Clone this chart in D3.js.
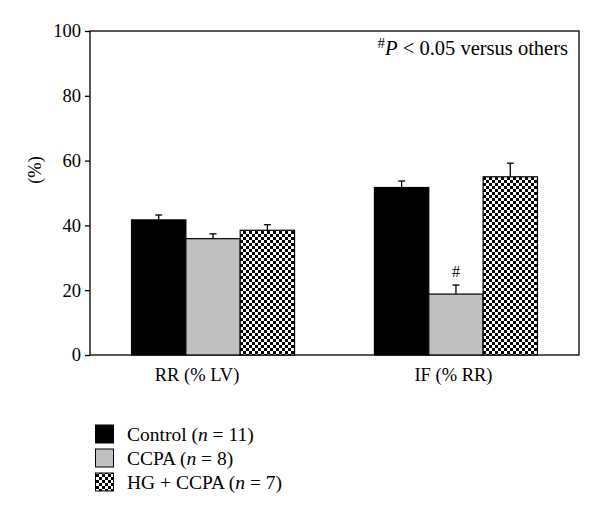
<!DOCTYPE html>
<html>
<head>
<meta charset="utf-8">
<script src="https://cdn.jsdelivr.net/npm/d3@7"></script>
<style>
  html, body { margin: 0; padding: 0; background: #fff; }
  svg { display: block; }
</style>
</head>
<body>
<svg id="chart" width="600" height="517"></svg>
<script>
// ---- data ----
const groups = ["RR (% LV)", "IF (% RR)"];
const seriesNames = ["Control", "CCPA", "HG + CCPA"];
const seriesN = [11, 8, 7];
const controlMean = [41.7, 51.7];
const controlSem  = [1.5, 2.0];
const ccpaMean    = [35.9, 18.8];
const ccpaSem     = [1.5, 2.8];
const hgMean      = [38.5, 55.0];
const hgSem       = [1.7, 4.2];
const sigMarks    = [["IF (% RR)", "CCPA"]];
const yTicks      = [0, 20, 40, 60, 80, 100];

// ---- layout ----
const mLeft = 90, mRight = 579, mTop = 31, mBottom = 355;
const labelDx = [-16, -2.5];
const FONT = '"Liberation Serif", "Times New Roman", serif';
const FS = 18.5;
const FS2 = 19.5;
const fills = ["#000000", "#c0c0c0", "url(#checker)"];

const means = [controlMean, ccpaMean, hgMean];
const sems = [controlSem, ccpaSem, hgSem];
const rows = [];
groups.forEach((g, gi) => seriesNames.forEach((s, si) => {
  rows.push({ group: g, series: s, si, mean: means[si][gi], sem: sems[si][gi] });
}));

const svg = d3.select("#chart");
const defs = svg.append("defs");
const pat = defs.append("pattern").attr("id", "checker")
  .attr("patternUnits", "userSpaceOnUse").attr("width", 6).attr("height", 6);
pat.append("rect").attr("width", 6).attr("height", 6).attr("fill", "#fff");
pat.append("rect").attr("width", 3).attr("height", 3).attr("fill", "#000");
pat.append("rect").attr("x", 3).attr("y", 3).attr("width", 3).attr("height", 3).attr("fill", "#000");

const x0 = d3.scaleBand().domain(groups).range([mLeft, mRight]).paddingInner(0.329).paddingOuter(0.171);
const x1 = d3.scaleBand().domain(seriesNames).range([0, x0.bandwidth()]).padding(0);
const y = d3.scaleLinear().domain([0, 100]).range([mBottom, mTop]);

// frame
svg.append("rect").attr("x", mLeft).attr("y", mTop).attr("width", mRight - mLeft).attr("height", mBottom - mTop)
  .attr("fill", "none").attr("stroke", "#000").attr("stroke-width", 1.3);

// bars
svg.append("g").selectAll("rect").data(rows).join("rect")
  .attr("x", d => x0(d.group) + x1(d.series))
  .attr("y", d => y(d.mean))
  .attr("width", x1.bandwidth())
  .attr("height", d => y(0) - y(d.mean))
  .attr("fill", d => fills[d.si])
  .attr("stroke", "#000").attr("stroke-width", 1.2);

// error bars
const eb = svg.append("g").attr("stroke", "#000").attr("stroke-width", 1.3);
rows.forEach(d => {
  const cx = x0(d.group) + x1(d.series) + x1.bandwidth() / 2;
  eb.append("line").attr("x1", cx).attr("x2", cx).attr("y1", y(d.mean)).attr("y2", y(d.mean + d.sem));
  eb.append("line").attr("x1", cx - 3.5).attr("x2", cx + 3.5).attr("y1", y(d.mean + d.sem)).attr("y2", y(d.mean + d.sem));
});

// significance marks
sigMarks.forEach(([g, s]) => {
  const d = rows.find(r => r.group === g && r.series === s);
  svg.append("text")
    .attr("x", x0(g) + x1(s) + x1.bandwidth() / 2)
    .attr("y", y(d.mean + d.sem) - 8)
    .attr("text-anchor", "middle")
    .style("font-family", FONT).style("font-size", "16px").text("#");
});

// y axis
const yAxis = d3.axisLeft(y).tickValues(yTicks).tickSize(5).tickPadding(4);
const ya = svg.append("g").attr("transform", `translate(${mLeft},0)`).call(yAxis);
ya.select(".domain").remove();
ya.selectAll("line").attr("stroke", "#000").attr("stroke-width", 1.3);
ya.selectAll("text").style("font-family", FONT).style("font-size", FS + "px").attr("fill", "#000");

// x labels
svg.append("g").selectAll("text").data(groups).join("text")
  .attr("x", (g, i) => x0(g) + x0.bandwidth() / 2 + labelDx[i])
  .attr("y", 381)
  .attr("text-anchor", "middle")
  .style("font-family", FONT).style("font-size", FS + "px").text(g => g);

// y label
svg.append("text").attr("transform", "translate(41,170) rotate(-90)")
  .attr("text-anchor", "middle")
  .style("font-family", FONT).style("font-size", FS + "px").text("(%)");

// annotation
const ann = svg.append("text").attr("x", 568).attr("y", 55).attr("text-anchor", "end")
  .style("font-family", FONT).style("font-size", (FS2 + 1) + "px");
ann.append("tspan").style("font-size", "15px").attr("dy", -7).text("#");
ann.append("tspan").style("font-style", "italic").attr("dy", 7).text("P");
ann.append("tspan").text(" < 0.05 versus others");

// legend
const lg = svg.append("g");
seriesNames.forEach((s, i) => {
  const yy = 425 + i * 24;
  lg.append("rect").attr("x", 95.5).attr("y", yy).attr("width", 18).attr("height", 18)
    .attr("fill", fills[i]).attr("stroke", "#000").attr("stroke-width", 1);
  const t = lg.append("text").attr("x", 127).attr("y", yy + 16)
    .style("font-family", FONT).style("font-size", FS2 + "px");
  t.append("tspan").text(s + " (");
  t.append("tspan").style("font-style", "italic").text("n");
  t.append("tspan").text(" = " + seriesN[i] + ")");
});
</script>
</body>
</html>
